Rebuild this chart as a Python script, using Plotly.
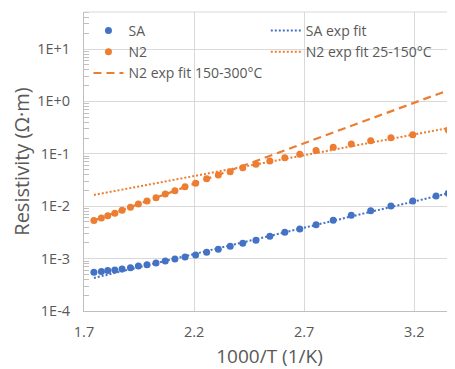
import plotly.graph_objects as go

# 1000/T values (1/K)
x_vals = [1.745, 1.779, 1.808, 1.840, 1.873, 1.911, 1.947, 1.986, 2.027, 2.069,
          2.113, 2.159, 2.207, 2.257, 2.310, 2.364, 2.421, 2.481, 2.544, 2.612,
          2.680, 2.754, 2.832, 2.914, 3.002, 3.094, 3.193, 3.299, 3.354]

sa_vals = [5.5e-4, 5.7e-4, 5.9e-4, 6.05e-4, 6.35e-4, 6.7e-4, 7.2e-4, 7.65e-4, 8.2e-4, 9.0e-4,
           9.8e-4, 1.07e-3, 1.17e-3, 1.32e-3, 1.50e-3, 1.72e-3, 1.96e-3, 2.23e-3, 2.67e-3, 3.18e-3,
           3.67e-3, 4.44e-3, 5.38e-3, 6.70e-3, 8.2e-3, 1.01e-2, 1.26e-2, 1.57e-2, 1.76e-2]

n2_vals = [5.33e-3, 5.96e-3, 6.59e-3, 7.35e-3, 8.39e-3, 9.53e-3, 1.10e-2, 1.26e-2, 1.45e-2, 1.71e-2,
           1.98e-2, 2.36e-2, 2.74e-2, 3.35e-2, 3.94e-2, 4.55e-2, 5.43e-2, 6.31e-2, 7.29e-2, 8.43e-2,
           9.78e-2, 0.1156, 0.133, 0.153, 0.177, 0.203, 0.231, None, 0.284]

# Fit lines (endpoints)
fit_x = [1.745, 3.354]
sa_fit = [4.27e-4, 1.76e-2]
n2_fit_hi = [5.33e-3, 1.63]
n2_fit_lo = [1.64e-2, 0.31]

x_ticks = [1.7, 2.2, 2.7, 3.2]
y_ticks = [1e-4, 1e-3, 1e-2, 1e-1, 1, 10]
y_tick_text = ["1E-4", "1E-3", "1E-2", "1E-1", "1E+0", "1E+1"]

BLUE = "#4472C4"
ORANGE = "#ED7D31"
TXT = "#595959"
GRID = "#D9D9D9"
AXL = "#BFBFBF"
FONT = "Open Sans"

fig = go.Figure()
fig.add_trace(go.Scatter(x=fit_x, y=sa_fit, mode="lines", name="SA exp fit",
                         line=dict(color=BLUE, width=2, dash="2px,2px"),
                         legend="legend2", legendrank=1))
fig.add_trace(go.Scatter(x=fit_x, y=n2_fit_lo, mode="lines", name="N2 exp fit 25-150°C",
                         line=dict(color=ORANGE, width=2, dash="2px,2px"),
                         legend="legend2", legendrank=2))
fig.add_trace(go.Scatter(x=fit_x, y=n2_fit_hi, mode="lines", name="N2 exp fit 150-300°C",
                         line=dict(color=ORANGE, width=2.2, dash="8px,5px"),
                         legend="legend", legendrank=3))
fig.add_trace(go.Scatter(x=x_vals, y=sa_vals, mode="markers", name="SA",
                         marker=dict(color=BLUE, size=7), legend="legend", legendrank=1))
fig.add_trace(go.Scatter(x=x_vals, y=n2_vals, mode="markers", name="N2",
                         marker=dict(color=ORANGE, size=7), legend="legend", legendrank=2))

fig.update_layout(
    width=447, height=361,
    margin=dict(l=76, r=0, t=4, b=58),
    paper_bgcolor="white", plot_bgcolor="white",
    font=dict(family=FONT, color=TXT, size=14),
    legend=dict(x=0.012, y=0.99, xanchor="left", yanchor="top", traceorder="normal",
                bgcolor="rgba(0,0,0,0)", font=dict(size=14, color=TXT),
                tracegroupgap=0, itemwidth=30),
    legend2=dict(x=0.49, y=0.99, xanchor="left", yanchor="top", traceorder="normal",
                 bgcolor="rgba(0,0,0,0)", font=dict(size=14, color=TXT),
                 tracegroupgap=0, itemwidth=30),
    xaxis=dict(range=[1.7, 3.385], tickvals=x_ticks, ticktext=[str(v) for v in x_ticks],
               showgrid=True, gridcolor=GRID, gridwidth=1,
               showline=True, linecolor=AXL, linewidth=1, mirror=False,
               ticks="", tickfont=dict(size=14.5, color=TXT), zeroline=False,
               ticklabelstandoff=8, automargin=False,
               title=dict(text="1000/T (1/K)", font=dict(size=19, color=TXT), standoff=14)),
    yaxis=dict(type="log", range=[-4, 1.706], tickvals=y_ticks, ticktext=y_tick_text,
               showgrid=True, gridcolor=GRID, gridwidth=1,
               showline=True, linecolor=AXL, linewidth=1,
               ticks="", tickfont=dict(size=14.5, color=TXT), zeroline=False,
               ticklabelstandoff=10, automargin=False,
               minor=dict(ticks="inside", ticklen=5, tickcolor=AXL, showgrid=False,
                          tickvals=[m * 10 ** e for e in range(-4, 2) for m in range(2, 10)]),
               title=dict(text="Resistivity (Ω·m)", font=dict(size=20, color=TXT), standoff=4)),
    showlegend=True,
)
# top border line
fig.add_shape(type="line", xref="paper", yref="paper", x0=0, x1=1, y0=1, y1=1,
              line=dict(color=GRID, width=1))

fig.write_html("out.html")
